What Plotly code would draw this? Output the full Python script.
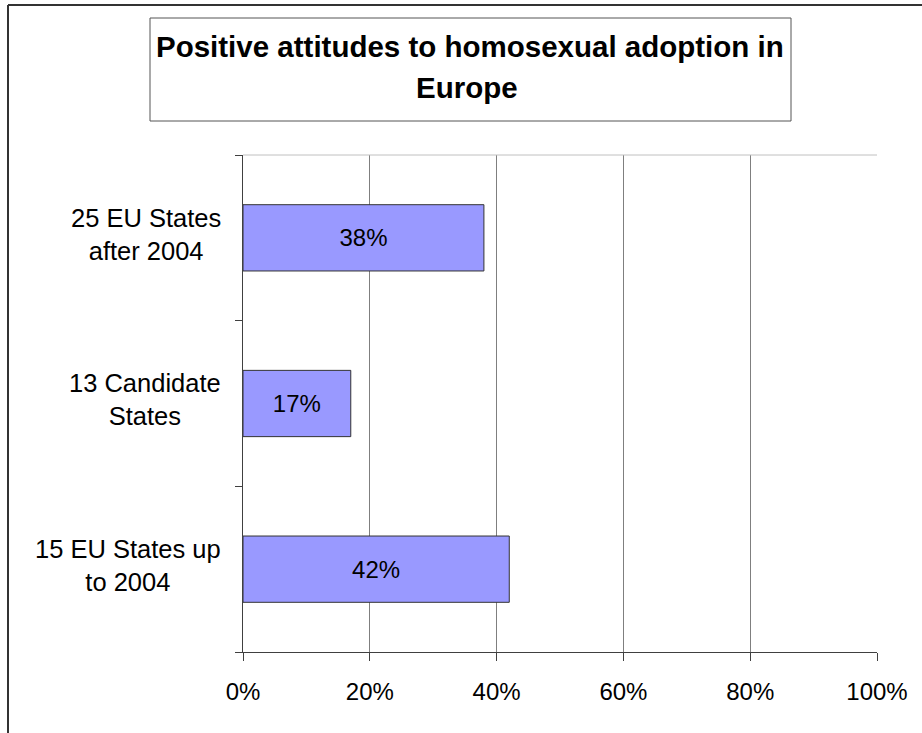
import plotly.graph_objects as go

# ---- data ----
categories = ["15 EU States up<br>to 2004", "13 Candidate<br>States", "25 EU States<br>after 2004"]
values = [0.42, 0.17, 0.38]
tick_vals = [0, 0.2, 0.4, 0.6, 0.8, 1.0]
title_line1 = "Positive attitudes to homosexual adoption in"
title_line2 = "Europe"

W, H = 922, 733
L, R, T, B = 243, 877, 155, 652


def px_x(p):
    return (p - L) / (R - L)


def px_y(p):
    return (B - p) / (B - T)


FONT = "Liberation Sans, Arial, sans-serif"
n = len(categories)

fig = go.Figure()
fig.add_trace(go.Bar(
    y=list(range(n)),
    x=values,
    orientation="h",
    width=0.4,
    marker=dict(color="#9999FF", line=dict(color="#333333", width=1)),
    texttemplate="%{x:.0%}",
    textposition="inside",
    insidetextanchor="middle",
    textangle=0,
    textfont=dict(family=FONT, size=24, color="black"),
    hoverinfo="skip",
    showlegend=False,
))

annotations = []
for i, c in enumerate(categories):
    annotations.append(dict(
        x=px_x(223), xref="paper", y=i + 0.022, yref="y",
        text=c, showarrow=False, xanchor="right", yanchor="middle",
        align="center", font=dict(family=FONT, size=25.5, color="black"),
    ))
annotations.append(dict(
    x=px_x(470), xref="paper", y=px_y(47), yref="paper",
    text="<b>" + title_line1 + "</b>", showarrow=False,
    xanchor="center", yanchor="middle",
    font=dict(family=FONT, size=29.5, color="black"),
))
annotations.append(dict(
    x=px_x(467), xref="paper", y=px_y(88), yref="paper",
    text="<b>" + title_line2 + "</b>", showarrow=False,
    xanchor="center", yanchor="middle",
    font=dict(family=FONT, size=29.5, color="black"),
))

shapes = [
    # outer chart border (left and top visible)
    dict(type="line", xref="paper", yref="paper",
         x0=px_x(8), y0=px_y(5), x1=px_x(940), y1=px_y(5),
         line=dict(color="#333333", width=2)),
    dict(type="line", xref="paper", yref="paper",
         x0=px_x(8), y0=px_y(5), x1=px_x(8), y1=px_y(760),
         line=dict(color="#333333", width=2)),
    # title box
    dict(type="rect", xref="paper", yref="paper",
         x0=px_x(150), y0=px_y(18), x1=px_x(791), y1=px_y(121),
         line=dict(color="#555555", width=1), fillcolor="white"),
    # plot area top border
    dict(type="line", xref="paper", yref="paper",
         x0=0, y0=1, x1=1, y1=1,
         line=dict(color="#C0C0C0", width=1)),
]

fig.update_layout(
    width=W, height=H,
    margin=dict(l=L, r=W - R, t=T, b=H - B, pad=0),
    paper_bgcolor="white", plot_bgcolor="white",
    font=dict(family=FONT, color="black"),
    annotations=annotations,
    shapes=shapes,
    xaxis=dict(
        range=[0, 1], tickvals=tick_vals, tickformat=".0%",
        showgrid=True, gridcolor="#7F7F7F", gridwidth=1,
        zeroline=False, showline=True, linecolor="#404040", linewidth=1,
        ticks="outside", ticklen=8, tickcolor="#404040", tickwidth=1,
        tickfont=dict(family=FONT, size=24, color="black"),
        ticklabelstandoff=10, fixedrange=True,
    ),
    yaxis=dict(
        range=[-0.5, n - 0.5],
        tickvals=[k - 0.5 for k in range(n + 1)],
        showticklabels=False, showgrid=False, zeroline=False,
        showline=True, linecolor="#404040", linewidth=1,
        ticks="outside", ticklen=7, tickcolor="#404040", tickwidth=1,
        fixedrange=True,
    ),
)

fig.write_html("out.html")
